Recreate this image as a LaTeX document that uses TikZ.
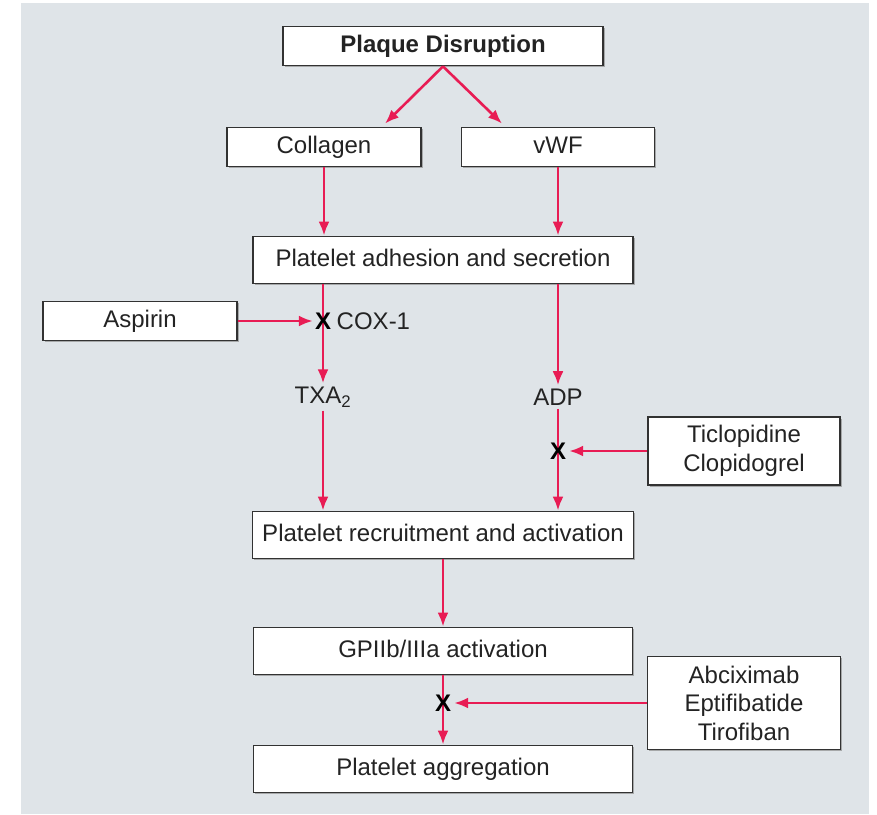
\documentclass[tikz,border=0pt]{standalone}
\usepackage{fontspec}
\setmainfont{Liberation Sans}
\usetikzlibrary{arrows.meta}
\usetikzlibrary{shadows}
\usetikzlibrary{backgrounds}
\usetikzlibrary{positioning}
\definecolor{panel}{RGB}{223,228,232}
\definecolor{flow}{RGB}{232,28,84}
\definecolor{edge}{RGB}{50,50,50}
\definecolor{ink}{RGB}{35,35,35}
\pgfdeclarelayer{front}
\pgfsetlayers{background,main,front}
\tikzset{every picture/.style={x=1pt,y=-1pt},
box/.style={draw=edge,fill=white,line width=1.8pt,inner sep=2pt,align=center,text=ink,font=\fontsize{24}{28.5}\selectfont,drop shadow={shadow xshift=1.8pt,shadow yshift=-1.8pt,fill=black!50,opacity=.6}},
single/.style={text height=17pt,text depth=5pt},
flowline/.style={draw=flow,line width=2.6pt,-{Latex[length=14pt,width=11pt]}},
blk/.style={font=\bfseries\fontsize{24}{24}\selectfont,inner sep=0pt},
lbl/.style={text=ink,font=\fontsize{24}{28}\selectfont}}

\begin{document}
\begin{tikzpicture}
\useasboundingbox (0,0) rectangle (877,814);
\fill[panel] (21,3) rectangle (869,814);

\node[box,single,minimum width=320pt,minimum height=39pt,font=\bfseries\fontsize{24}{28}\selectfont] (plaque) at (443,46) {Plaque Disruption};
\node[box,single,minimum width=194pt,minimum height=39pt] (collagen) at (324,147) {Collagen};
\node[box,single,minimum width=193pt,minimum height=39pt] (vwf) at (558,147) {vWF};
\node[box,single,minimum width=380pt,minimum height=47pt] (adhesion) at (443,260) {Platelet adhesion and secretion};
\node[box,single,minimum width=194pt,minimum height=39pt] (aspirin) at (140,321) {Aspirin};
\node[lbl] (txa) at (323,397) {TXA\textsubscript{2}};
\node[lbl] (adp) at (558,397) {ADP};
\node[box,minimum width=192pt,minimum height=68pt] (thieno) at (744,451) {Ticlopidine\\Clopidogrel};
\node[box,single,minimum width=381pt,minimum height=47pt] (recruit) at (443,535) {Platelet recruitment and activation};
\node[box,single,minimum width=379pt,minimum height=47pt] (gpiib) at (443,651) {GPIIb/IIIa activation};
\node[box,minimum width=193pt,minimum height=93pt] (gpblock) at (744,703) {Abciximab\\Eptifibatide\\Tirofiban};
\node[box,single,minimum width=379pt,minimum height=47pt] (aggr) at (443,769) {Platelet aggregation};

% blocked steps
\begin{pgfonlayer}{front}
\node[blk] (xcox) at (323,321) {X};
\node[blk] (xadp) at (558,451) {X};
\node[blk] (xgp) at (443,703) {X};
\end{pgfonlayer}
\node[lbl,right=2pt of xcox] (cox) {COX-1};

\draw[flowline] (plaque.south) -- ([xshift=61pt,yshift=3pt]collagen.north);
\draw[flowline] (plaque.south) -- ([xshift=-56pt,yshift=3pt]vwf.north);
\draw[flowline] (collagen.south) -- (collagen.south |- adhesion.north);
\draw[flowline] (vwf.south) -- (vwf.south |- adhesion.north);
\draw[flowline] (adhesion.south -| xcox) -- (txa.north);
\draw[flowline,shorten >=2pt] (aspirin.east) -- (xcox.west);
\draw[flowline] (adhesion.south -| adp) -- (adp.north);
\draw[flowline] (txa.south) -- (txa.south |- recruit.north);
\draw[flowline] (adp.south) -- (adp.south |- recruit.north);
\draw[flowline,shorten >=3pt] (thieno.west) -- (xadp.east);
\draw[flowline] (recruit.south) -- (gpiib.north);
\draw[flowline] (gpiib.south) -- (aggr.north);
\draw[flowline,shorten >=3pt] (gpblock.west) -- (xgp.east);
\end{tikzpicture}
\end{document}
